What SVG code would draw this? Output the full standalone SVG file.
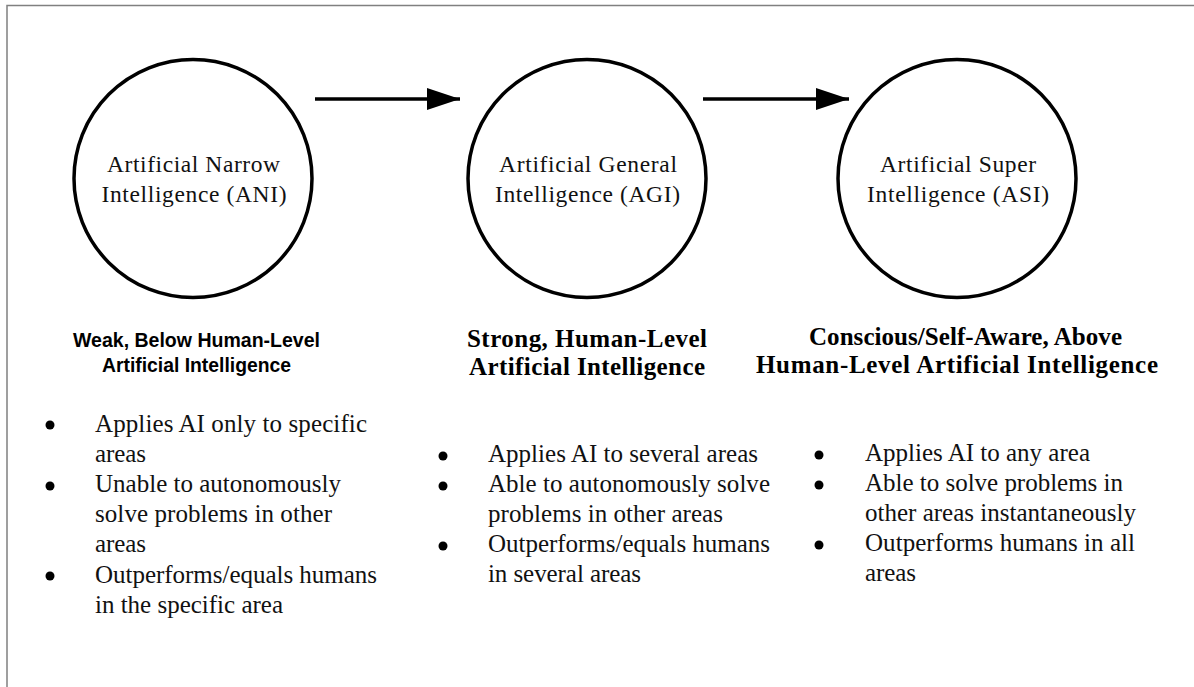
<svg xmlns="http://www.w3.org/2000/svg" width="1194" height="687" viewBox="0 0 1194 687">
<style>
.node{fill:#fff;stroke:#000;stroke-width:3.5}
.ct{font-family:"Liberation Serif","Times New Roman",serif;font-size:23.5px;fill:#111;text-anchor:middle}
.hs{font-family:"Liberation Sans",Arial,sans-serif;font-weight:bold;font-size:21px;fill:#000;text-anchor:middle}
.hb{font-family:"Liberation Serif","Times New Roman",serif;font-weight:bold;font-size:25px;fill:#000}
.bt{font-family:"Liberation Serif","Times New Roman",serif;font-size:25px;fill:#111}
.dot{fill:#000}
.conn{stroke:#000;stroke-width:3.5;fill:none}
</style>
<defs>
<marker id="ah" markerUnits="userSpaceOnUse" markerWidth="34" markerHeight="24" refX="33" refY="11" orient="auto">
<path d="M0,0 L33,11 L0,22 Z" fill="#000"/>
</marker>
</defs>
<rect width="1194" height="687" fill="#fff"/>
<path d="M7,687 V5.5 H1194" fill="none" stroke="#808080" stroke-width="1.5"/>
<g id="connectors">
<line class="conn" x1="315" y1="99" x2="460" y2="99" marker-end="url(#ah)"/>
<line class="conn" x1="703" y1="99" x2="849" y2="99" marker-end="url(#ah)"/>
</g>
<g id="ani">
<circle class="node" cx="193" cy="178.5" r="119"/>
<text class="ct" x="193.5" y="172" textLength="173" lengthAdjust="spacing">Artificial Narrow</text>
<text class="ct" x="194" y="202" textLength="185" lengthAdjust="spacing">Intelligence (ANI)</text>
</g>
<g id="agi">
<circle class="node" cx="587" cy="178.5" r="119"/>
<text class="ct" x="588" y="172" textLength="178" lengthAdjust="spacing">Artificial General</text>
<text class="ct" x="587.5" y="202" textLength="185" lengthAdjust="spacing">Intelligence (AGI)</text>
</g>
<g id="asi">
<circle class="node" cx="957" cy="178.5" r="119"/>
<text class="ct" x="958" y="172" textLength="156" lengthAdjust="spacing">Artificial Super</text>
<text class="ct" x="958" y="202" textLength="182" lengthAdjust="spacing">Intelligence (ASI)</text>
</g>
<g id="ani-desc">
<text class="hs" x="196.5" y="347" textLength="247" lengthAdjust="spacingAndGlyphs">Weak, Below Human-Level</text>
<text class="hs" x="196.5" y="372" textLength="189" lengthAdjust="spacingAndGlyphs">Artificial Intelligence</text>
<circle class="dot" cx="50" cy="425" r="4.5"/>
<circle class="dot" cx="50" cy="486" r="4.5"/>
<circle class="dot" cx="50" cy="576" r="4.5"/>
<text class="bt" x="95" y="432" textLength="272" lengthAdjust="spacing">Applies AI only to specific</text>
<text class="bt" x="95" y="462" textLength="51" lengthAdjust="spacing">areas</text>
<text class="bt" x="95" y="492" textLength="246" lengthAdjust="spacing">Unable to autonomously</text>
<text class="bt" x="95" y="522" textLength="237" lengthAdjust="spacing">solve problems in other</text>
<text class="bt" x="95" y="552" textLength="51" lengthAdjust="spacing">areas</text>
<text class="bt" x="95" y="583" textLength="282" lengthAdjust="spacing">Outperforms/equals humans</text>
<text class="bt" x="95" y="613" textLength="188" lengthAdjust="spacing">in the specific area</text>
</g>
<g id="agi-desc">
<text class="hb" x="467" y="347" textLength="240" lengthAdjust="spacing">Strong, Human-Level</text>
<text class="hb" x="469" y="375" textLength="236" lengthAdjust="spacing">Artificial Intelligence</text>
<circle class="dot" cx="443" cy="456" r="4.5"/>
<circle class="dot" cx="443" cy="486" r="4.5"/>
<circle class="dot" cx="443" cy="546" r="4.5"/>
<text class="bt" x="488" y="462" textLength="270" lengthAdjust="spacing">Applies AI to several areas</text>
<text class="bt" x="488" y="492" textLength="282" lengthAdjust="spacing">Able to autonomously solve</text>
<text class="bt" x="488" y="522" textLength="235" lengthAdjust="spacing">problems in other areas</text>
<text class="bt" x="488" y="552" textLength="282" lengthAdjust="spacing">Outperforms/equals humans</text>
<text class="bt" x="488" y="582" textLength="153" lengthAdjust="spacing">in several areas</text>
</g>
<g id="asi-desc">
<text class="hb" x="809" y="345" textLength="313" lengthAdjust="spacing">Conscious/Self-Aware, Above</text>
<text class="hb" x="756" y="373" textLength="402" lengthAdjust="spacing">Human-Level Artificial Intelligence</text>
<circle class="dot" cx="819" cy="455" r="4.5"/>
<circle class="dot" cx="819" cy="485" r="4.5"/>
<circle class="dot" cx="819" cy="545" r="4.5"/>
<text class="bt" x="865" y="461" textLength="225" lengthAdjust="spacing">Applies AI to any area</text>
<text class="bt" x="865" y="491" textLength="258" lengthAdjust="spacing">Able to solve problems in</text>
<text class="bt" x="865" y="521" textLength="271" lengthAdjust="spacing">other areas instantaneously</text>
<text class="bt" x="865" y="551" textLength="270" lengthAdjust="spacing">Outperforms humans in all</text>
<text class="bt" x="865" y="581" textLength="51" lengthAdjust="spacing">areas</text>
</g>
</svg>
